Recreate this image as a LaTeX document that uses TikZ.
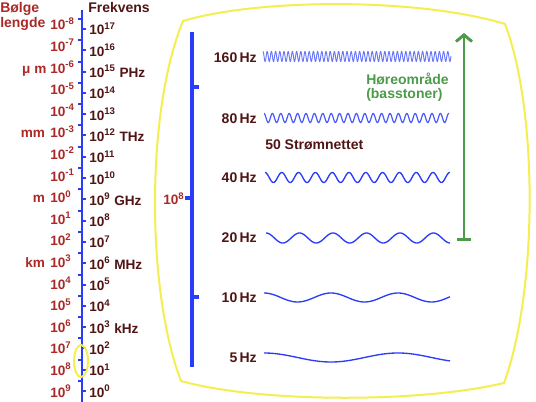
\documentclass[tikz,border=0pt]{standalone}
\usepackage{fontspec}
\setmainfont{Liberation Sans}
\usetikzlibrary{arrows.meta}
\definecolor{wlred}{RGB}{170,40,40}
\definecolor{frbrown}{RGB}{80,20,20}
\definecolor{axblue}{RGB}{40,60,250}
\definecolor{frameyellow}{RGB}{245,238,80}
\definecolor{hgreen}{RGB}{75,155,75}
\newcommand{\tenp}[1]{10\raisebox{0.8ex}{\fontsize{7.2}{8}\selectfont #1}}
\begin{document}
\begin{tikzpicture}[x=0.75pt,y=-0.75pt,
  font=\fontsize{10.2}{12}\selectfont\bfseries,
  wl/.style={text=wlred, anchor=base west, inner sep=0pt},
  fr/.style={text=frbrown, anchor=base west, inner sep=0pt},
  txt/.style={font=\fontsize{10.5}{12}\selectfont\bfseries, inner sep=0pt},
  axisline/.style={draw=axblue, line width=1.5pt},
  tickmark/.style={draw=axblue, line width=1.5pt},
  bar/.style={draw=axblue, line width=3pt},
  frame/.style={draw=frameyellow, line width=1.5pt},
  wave/.style={draw=axblue, line width=1pt},
  hz/.style={txt, text=frbrown, anchor=base east}]
\useasboundingbox (0,0) rectangle (536,402);

% headers
\node[txt, text=wlred, anchor=base west] (hb1) at (0,13) {Bølge};
\node[txt, text=wlred, anchor=base west] (hb2) at (0,28) {lengde};
\node[txt, text=frbrown, anchor=base west] (hf) at (88,13) {Frekvens};

% main axis
\coordinate (axtop) at (82,10);
\coordinate (axbot) at (82,402);
\draw[axisline] (axtop) -- (axbot);
\foreach \k in {0,...,17} {
  \draw[tickmark] (78,{19+21.3*\k}) -- (82,{19+21.3*\k});
  \draw[tickmark] (82,{29+21.3*\k}) -- (86,{29+21.3*\k});
}

% wavelength labels
\foreach \e [count=\k from 0] in {-8,-7,...,9} {
  \node[wl] (wl\k) at (50,{30+21.6*\k}) {\tenp{\e}};
}
% frequency labels
\foreach \e [count=\k from 0] in {17,16,...,0} {
  \node[fr] (fr\k) at (89,{35+21.3*\k}) {\tenp{\e}};
}
% units
\node[wl, anchor=base east] (um) at ([xshift=-2.5pt]wl2.base west) {μ m};
\node[wl, anchor=base east] (mm) at ([xshift=-3.5pt]wl5.base west) {mm};
\node[wl, anchor=base east] (m) at ([xshift=-3.5pt]wl8.base west) {m};
\node[wl, anchor=base east] (km) at ([xshift=-3.5pt]wl11.base west) {km};
\node[fr] (phz) at ([xshift=3pt]fr2.base east) {PHz};
\node[fr] (thz) at ([xshift=3pt]fr5.base east) {THz};
\node[fr] (ghz) at ([xshift=3pt]fr8.base east) {GHz};
\node[fr] (mhz) at ([xshift=3pt]fr11.base east) {MHz};
\node[fr] (khz) at ([xshift=3pt]fr14.base east) {kHz};

% yellow ellipse
\draw[frame] (81,361) ellipse [x radius=7, y radius=16];

% TV frame
\draw[frame] (183,21) .. controls (260,-2) and (420,-2) .. (505,24)
  .. controls (538,110) and (538,290) .. (504,383)
  .. controls (420,403) and (260,403) .. (181,381)
  .. controls (146,290) and (146,110) .. cycle;

% zoomed bar
\coordinate (bartop) at (192,32);
\coordinate (barbot) at (192,367);
\draw[bar] (bartop) -- (barbot);
\draw[bar] (192,87) -- (199,87);
\draw[bar] (192,297) -- (199,297);
\draw[bar] (185,198) -- (192,198);
\node[wl] (w8) at (163,205) {\tenp{8}};

% waves
\node[hz] (l160) at (257,63) {160\,Hz};
\node[hz] (l80) at (257,124) {80\,Hz};
\node[hz] (l40) at (257,183) {40\,Hz};
\node[hz] (l20) at (257,243) {20\,Hz};
\node[hz] (l10) at (257,303) {10\,Hz};
\node[hz] (l5) at (257,363) {5\,Hz};
\draw[wave, draw=axblue!70, line width=0.7pt] plot[domain=263:451, samples=900] (\x,{56.5-5*cos(mod(\x-263,4.2)/4.2*360)});
\draw[wave, draw=axblue!85, line width=0.9pt] plot[domain=264:449, samples=500] (\x,{118-4.5*cos(mod(\x-264,8.4)/8.4*360)});
\draw[wave] plot[domain=265:450, samples=300] (\x,{177.5-5*cos(mod(\x-265,16.8)/16.8*360)});
\draw[wave] plot[domain=266:450, samples=200] (\x,{238-5*cos(mod(\x-266,33.5)/33.5*360)});
\draw[wave] plot[domain=264:450, samples=150] (\x,{297.5-4.5*cos(mod(\x-264,67)/67*360)});
\draw[wave] plot[domain=264:450, samples=150] (\x,{357.5-4.5*cos(mod(\x-264,134)/134*360)});

\node[txt, text=frbrown, anchor=base west] (strom) at (265,150) {50 Strømnettet};

% hearing range
\node[txt, text=hgreen, anchor=base west] (h1) at (366,85) {Høreområde};
\node[txt, text=hgreen, anchor=base west] (h2) at (366,99) {(basstoner)};
\coordinate (hbot) at (464,241);
\coordinate (htop) at (464,33);
\draw[draw=hgreen, line width=2.2pt, {Bar[width=10.5pt]}-{Straight Barb[length=5pt,width=12pt]}] (hbot) -- (htop);
\end{tikzpicture}
\end{document}
